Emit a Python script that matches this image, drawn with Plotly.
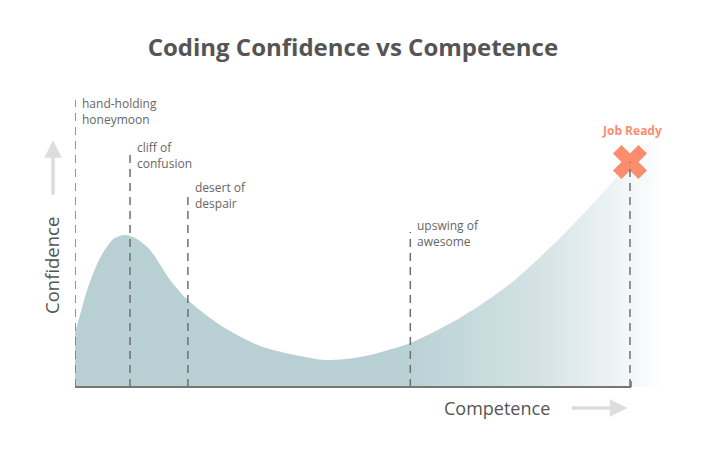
import plotly.graph_objects as go

# Curve data (competence vs confidence)
competence = [0, 1.2, 2.3, 4.5, 7.0, 9.0, 11.0, 13.5, 17.1, 20.3, 26.1, 33.3, 40.5, 45.0, 51.3, 60.3, 69.2, 78.2, 87.2, 94.4, 99.8, 106.1]
confidence = [18, 26, 33, 43, 49.5, 50.7, 49.5, 45.7, 35.7, 29, 20.7, 13.7, 10.3, 9, 10, 14.7, 23, 34.3, 49.7, 63.7, 75, 87]

# Stage markers
stage_labels = ["hand-holding<br>honeymoon", "cliff of<br>confusion", "desert of<br>despair", "upswing of<br>awesome"]
stage_x = [0, 9.9, 20.3, 60.3]
stage_top = [95.7, 79, 64.7, 51.7]
label_lift = [2.5, 8.5, 11.5, 12.5]  # px

job_label = "Job Ready"
job_x = 99.8
job_y = 75

TEXT = "#666666"
DARK = "#555555"
FILL = "#b8d0d4"
ORANGE = "#fb8d6e"

fig = go.Figure()
fig.add_trace(go.Scatter(
    x=competence, y=confidence, mode="lines", line=dict(width=0, shape="spline", smoothing=0.8),
    fill="tozeroy",
    fillgradient=dict(type="horizontal", start=0, stop=106.1,
                      colorscale=[[0, FILL], [0.55, FILL], [0.78, "#d3e2e4"], [1, "rgba(255,255,255,1)"]]),
    hoverinfo="skip", showlegend=False))

# dashed stage lines
for sx, st in zip(stage_x, stage_top):
    fig.add_shape(type="line", x0=sx, x1=sx, y0=0, y1=st, xref="x", yref="y",
                  line=dict(color="#6f6f6f", width=1.5, dash="8px,6px"))
fig.add_shape(type="line", x0=job_x, x1=job_x, y0=0, y1=job_y, xref="x", yref="y",
              line=dict(color="#6f6f6f", width=1.5, dash="8px,6px"))

# baseline
fig.add_shape(type="line", x0=0, x1=100, y0=0, y1=0, xref="x", yref="y",
              line=dict(color="#777777", width=2))
fig.add_shape(type="line", x0=100, x1=100, y0=0, y1=2, xref="x", yref="y",
              line=dict(color="#777777", width=1.5))

for lab, sx, st, lift in zip(stage_labels, stage_x, stage_top, label_lift):
    fig.add_annotation(x=sx, y=st + 1.5, text=lab, showarrow=False, xanchor="left", yanchor="top",
                       xshift=5, yshift=lift, align="left", font=dict(family="Open Sans", size=12, color=TEXT))

# Job ready marker
fig.add_trace(go.Scatter(x=[job_x], y=[job_y], mode="markers",
                         marker=dict(symbol="x", size=30, color=ORANGE, line=dict(width=0)),
                         hoverinfo="skip", showlegend=False))
fig.add_annotation(x=job_x, y=job_y, yshift=32, xshift=2, text="<b>" + job_label + "</b>", showarrow=False,
                   font=dict(family="Open Sans", size=12, color=ORANGE))

# axis titles and arrows (paper coordinates, outside the plot area)
fig.add_annotation(x=-0.039, y=0.424, xref="paper", yref="paper", text="Confidence", textangle=-90,
                   xanchor="center", yanchor="middle",
                   showarrow=False, font=dict(family="Open Sans", size=18.5, color=DARK))
fig.add_annotation(x=-0.0373, y=0.828, xref="paper", yref="paper", ax=0, ay=56, text="", showarrow=True,
                   arrowhead=2, arrowsize=1, arrowwidth=3.5, arrowcolor="#dddddd")
fig.add_annotation(x=0.715, y=-0.039, xref="paper", yref="paper", text="Competence", showarrow=False,
                   xanchor="center", yanchor="middle",
                   font=dict(family="Open Sans", size=18, color=DARK))
fig.add_annotation(x=0.936, y=-0.039, xref="paper", yref="paper", ax=-57, ay=0, text="", showarrow=True,
                   arrowhead=2, arrowsize=1, arrowwidth=3.5, arrowcolor="#dddddd")

fig.update_layout(
    width=720, height=475,
    margin=dict(l=67, r=63, t=79, b=87),
    paper_bgcolor="white", plot_bgcolor="white",
    title=dict(text="<b>Coding Confidence vs Competence</b>", x=0.479, xanchor="center", y=0.916, yanchor="middle",
               font=dict(family="Open Sans", size=24, color=DARK)),
    xaxis=dict(range=[0, 106.1], visible=False),
    yaxis=dict(range=[-3, 100], visible=False),
)

fig.write_html("out.html")
